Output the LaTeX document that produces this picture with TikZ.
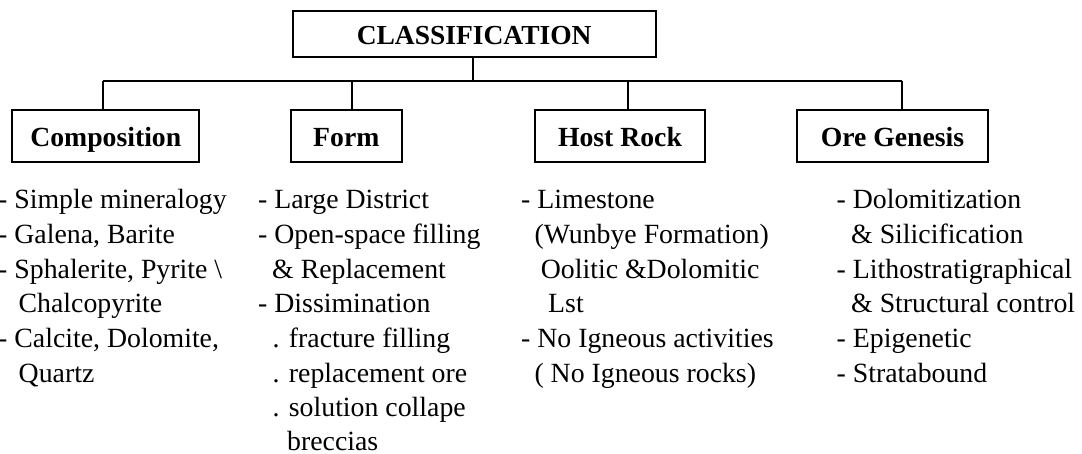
\documentclass[tikz,border=0pt]{standalone}
\usepackage{fontspec}
\setmainfont{Liberation Serif}
\begin{document}
\begin{tikzpicture}[x=1pt,y=-1pt,
  box/.style={draw,line width=2pt,inner sep=0pt,minimum height=52.3pt,text height=20pt,text depth=0pt,font=\bfseries\fontsize{27.7}{30}\selectfont},
  txt/.style={anchor=base west,inner sep=0pt,font=\fontsize{27.8}{30}\selectfont},
  conn/.style={line width=2pt}]
\useasboundingbox (0,0) rectangle (1082,454);
% boxes
\node[box,minimum width=363pt,minimum height=46.6pt,text height=22pt,font=\bfseries\fontsize{27.5}{30}\selectfont] (cls) at (474.2,34) {CLASSIFICATION};
\node[box,minimum width=187pt] (comp) at (105.8,136.2) {Composition};
\node[box,minimum width=110.7pt] (form) at (346.3,136.2) {Form};
\node[box,minimum width=170pt] (host) at (620,136.2) {Host Rock};
\node[box,minimum width=191.6pt] (ore) at (892.5,136.2) {Ore Genesis};
% connectors
\coordinate (j) at (473.3,81.3);
\coordinate (b1) at (103,81.3);
\coordinate (b2) at (351.7,81.3);
\coordinate (b3) at (628.3,81.3);
\coordinate (b4) at (902.3,81.3);
\draw[conn] (cls.south -| j) -- (j);
\draw[conn] (b1) -- (b4);
\draw[conn] (b1) -- (b1 |- comp.north);
\draw[conn] (b2) -- (b2 |- form.north);
\draw[conn] (b3) -- (b3 |- host.north);
\draw[conn] (b4) -- (b4 |- ore.north);
% column 1
\node[txt] (c1a) at (-2,209) {- Simple mineralogy};
\node[txt] (c1b) at (-2,243.5) {- Galena, Barite};
\node[txt] (c1c) at (-2,278.5) {- Sphalerite, Pyrite \textbackslash};
\node[txt] (c1d) at (18.5,313) {Chalcopyrite};
\node[txt] (c1e) at (-2,347.5) {- Calcite, Dolomite,};
\node[txt] (c1f) at (18.5,382) {Quartz};
% column 2
\node[txt] (c2a) at (258,209) {- Large District};
\node[txt] (c2b) at (258,243.5) {- Open-space filling};
\node[txt] (c2c) at (272,278.5) {\& Replacement};
\node[txt] (c2d) at (258,313) {- Dissimination};
\node[txt] (c2e) at (272.5,347.5) {. fracture filling};
\node[txt] (c2f) at (272.5,382) {. replacement ore};
\node[txt] (c2g) at (272.5,416) {. solution collape};
\node[txt] (c2h) at (287,450) {breccias};
% column 3
\node[txt] (c3a) at (521,209) {- Limestone};
\node[txt] (c3b) at (534.3,243.5) {(Wunbye Formation)};
\node[txt] (c3c) at (540.7,278.5) {Oolitic \&Dolomitic};
\node[txt] (c3d) at (548,313) {Lst};
\node[txt] (c3e) at (521,347.5) {- No Igneous activities};
\node[txt] (c3f) at (534.3,382) {( No Igneous rocks)};
% column 4
\node[txt] (c4a) at (836.5,209) {- Dolomitization};
\node[txt] (c4b) at (851,243.5) {\& Silicification};
\node[txt] (c4c) at (836.5,278.5) {- Lithostratigraphical};
\node[txt] (c4d) at (851,313) {\& Structural control};
\node[txt] (c4e) at (836.5,347.5) {- Epigenetic};
\node[txt] (c4f) at (836.5,382) {- Stratabound};
\end{tikzpicture}
\end{document}
